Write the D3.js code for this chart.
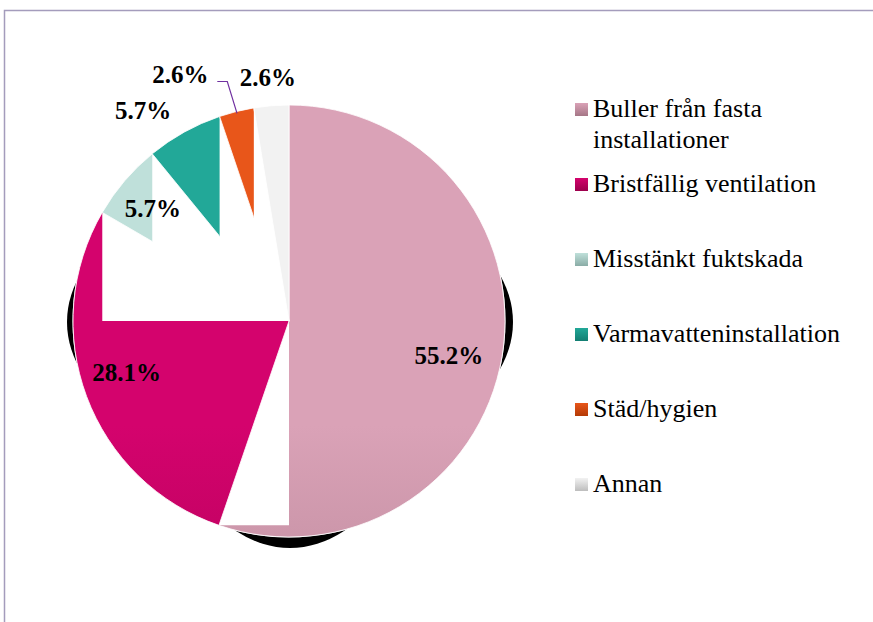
<!DOCTYPE html>
<html>
<head>
<meta charset="utf-8">
<script src="https://cdn.jsdelivr.net/npm/d3@7"></script>
<style>
  body { margin: 0; background: #fff; }
  svg { display: block; }
  text { font-family: 'Liberation Serif', 'Times New Roman', Tinos, 'DejaVu Serif', serif; }
</style>
</head>
<body>
<svg width="873" height="622"></svg>
<script>
// data
let categories = ['Buller från fasta installationer', 'Bristfällig ventilation', 'Misstänkt fuktskada',
  'Varmavatteninstallation', 'Städ/hygien', 'Annan']
let values = [55.2, 28.1, 5.7, 5.7, 2.6, 2.6]
let labels = ['55.2%', '28.1%', '5.7%', '5.7%', '2.6%', '2.6%']
let legendLines = [['Buller från fasta', 'installationer'], ['Bristfällig ventilation'], ['Misstänkt fuktskada'],
  ['Varmavatteninstallation'], ['Städ/hygien'], ['Annan']]

// look
let colorsTop = ['#daa2b7', '#d4036d', '#bfe0da', '#22a898', '#e8561a', '#f2f2f2']
let colorsBottom = ['#a57686', '#9c004c', '#8aaca6', '#137e72', '#b33a06', '#bdbdbd']
let labelRadius = [162, 170, 175, 245, 250, 245]
let labelNudge = [[0, 8], [-3, -7], [-3, 2], [-27, 4], [-48, -3], [-1, 1]]

let cx = 289, cy = 321, r = 216

let svg = d3.select('svg')
let defs = svg.append('defs')

// frame
svg.append('rect')
  .attr('x', 4.5).attr('y', 10.5)
  .attr('width', 1000).attr('height', 1000)
  .attr('fill', 'none')
  .attr('stroke', '#a49cbc')
  .attr('stroke-width', 1.5)

let pie = d3.pie().sort(null).value(d => d)
let arcs = pie(values)
let arc = d3.arc().innerRadius(0).outerRadius(r)

colorsTop.forEach((c, i) => {
  let g = defs.append('linearGradient')
    .attr('id', 'grad' + i)
    .attr('gradientUnits', 'userSpaceOnUse')
    .attr('x1', 0).attr('x2', 0)
    .attr('y1', cy - r).attr('y2', cy + r)
  g.append('stop').attr('offset', '0%').attr('stop-color', c)
  g.append('stop').attr('offset', '100%').attr('stop-color', colorsBottom[i])
  let lg = defs.append('linearGradient')
    .attr('id', 'lgrad' + i)
    .attr('x1', 0).attr('x2', 0).attr('y1', 0).attr('y2', 1)
  lg.append('stop').attr('offset', '0%').attr('stop-color', c)
  lg.append('stop').attr('offset', '100%').attr('stop-color', colorsBottom[i])
})

// point on the rim for an angle
let rim = (a, rad) => [cx + rad * Math.sin(a), cy - rad * Math.cos(a)]

// each slice loses the box between the centre and its end point
arcs.forEach((d, i) => {
  let p = rim(d.endAngle, r)
  let x0 = Math.min(p[0], cx), x1 = Math.max(p[0], cx)
  let y0 = Math.min(p[1], cy), y1 = Math.max(p[1], cy)
  defs.append('clipPath').attr('id', 'clip' + i)
    .append('path')
    .attr('clip-rule', 'evenodd')
    .attr('d', 'M0,0H873V622H0Z M' + x0 + ',' + y0 + 'H' + x1 + 'V' + y1 + 'H' + x0 + 'Z')
})

// shadow
let shadow = svg.append('g').attr('fill', '#000')
shadow.append('ellipse').attr('cx', cx + 1).attr('cy', cy + 1).attr('rx', r + 7).attr('ry', 140)
shadow.append('ellipse').attr('cx', cx + 1).attr('cy', cy + 7).attr('rx', 140).attr('ry', r + 4)

svg.append('circle').attr('cx', cx).attr('cy', cy).attr('r', r + 0.5).attr('fill', '#fff')

let pieG = svg.append('g')
arcs.forEach((d, i) => {
  pieG.append('g')
    .attr('clip-path', 'url(#clip' + i + ')')
    .append('path')
    .attr('transform', 'translate(' + [cx, cy] + ')')
    .attr('d', arc(d))
    .attr('fill', 'url(#grad' + i + ')')
    .attr('stroke', '#fff')
    .attr('stroke-width', 0.8)
})

// data labels
arcs.forEach((d, i) => {
  let mid = (d.startAngle + d.endAngle) / 2
  let p = rim(mid, labelRadius[i])
  let x = p[0] + labelNudge[i][0]
  let y = p[1] + labelNudge[i][1]
  svg.append('text')
    .attr('x', x)
    .attr('y', y + 8)
    .attr('text-anchor', 'middle')
    .attr('font-weight', 'bold')
    .attr('font-size', 25)
    .attr('fill', '#000')
    .text(labels[i])
  if (i == 4) {
    let e = rim(mid, r - 2)
    svg.append('path')
      .attr('d', d3.line()([[x + 37, y + 6], [x + 47, y + 6], e]))
      .attr('fill', 'none')
      .attr('stroke', '#7030a0')
      .attr('stroke-width', 1.2)
  }
})

// legend
let legendY = d3.scaleLinear().domain([1, 5]).range([192, 492])
let legend = svg.append('g')
legendLines.forEach((lines, i) => {
  let base = i == 0 ? 117 : legendY(i)
  legend.append('rect')
    .attr('x', 575).attr('y', base - 14)
    .attr('width', 13).attr('height', 13)
    .attr('fill', 'url(#lgrad' + i + ')')
  let t = legend.append('text')
    .attr('font-size', 26)
    .attr('fill', '#000')
  lines.forEach((s, j) => {
    t.append('tspan').attr('x', 593).attr('y', base + j * 31).text(s)
  })
})
</script>
</body>
</html>
